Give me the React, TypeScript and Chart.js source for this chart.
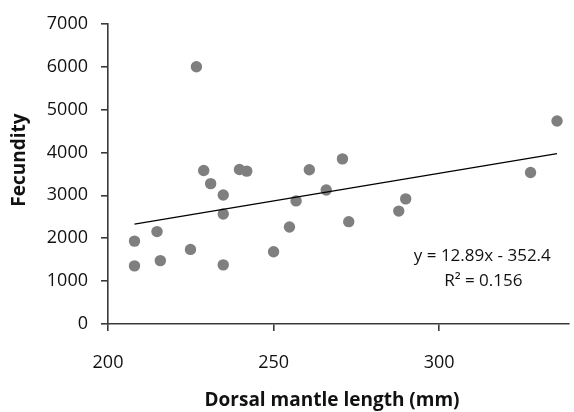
import React, { useEffect, useRef } from "react";
import { Chart, registerables } from "chart.js";

Chart.register(...registerables);

const lengthMm = [208.0, 208.0, 214.8, 215.8, 224.9, 226.7, 228.9, 231.0, 234.8, 234.8, 234.8, 239.7, 241.9, 250.0, 254.8, 256.8, 260.8, 265.9, 270.8, 272.7, 287.8, 289.9, 327.6, 335.6];
const fecundity = [1933, 1356, 2155, 1478, 1739, 6000, 3580, 3273, 3009, 2564, 1379, 3603, 3564, 1686, 2263, 2871, 3596, 3125, 3850, 2386, 2633, 2917, 3533, 4734];

const trendX = [208.0, 335.6];
const trendY = [2329, 3973];

const xTicks = [200, 250, 300];
const yTicks = [0, 1000, 2000, 3000, 4000, 5000, 6000, 7000];

const equationText = "y = 12.89x - 352.4";
const r2Text = "R² = 0.156";
const xTitle = "Dorsal mantle length (mm)";
const yTitle = "Fecundity";

const FONT = "'Open Sans', 'Noto Sans', sans-serif";
const AXIS_COLOR = "#3a3a3a";
const TEXT_COLOR = "#111111";

const textPlugin = {
  id: "customTexts",
  afterDraw(chart: any) {
    const ctx = chart.ctx;
    const area = chart.chartArea;
    ctx.save();
    ctx.fillStyle = TEXT_COLOR;
    // equation
    ctx.font = `17px ${FONT}`;
    ctx.textAlign = "center";
    ctx.textBaseline = "alphabetic";
    ctx.fillText(equationText, area.right - 86, area.top + 237);
    ctx.fillText(r2Text, area.right - 85, area.top + 262);
    // x title
    ctx.font = `bold 19px ${FONT}`;
    ctx.textBaseline = "middle";
    ctx.fillText(xTitle, 332, 401);
    // y title
    ctx.translate(20, 160);
    ctx.rotate(-Math.PI / 2);
    ctx.fillText(yTitle, 0, 0);
    ctx.restore();
  },
};

export default function App() {
  const ref = useRef<HTMLCanvasElement | null>(null);
  useEffect(() => {
    if (!ref.current) return;
    const chart = new Chart(ref.current, {
      type: "scatter",
      data: {
        datasets: [
          {
            type: "line",
            label: "Trend",
            data: trendX.map((x, i) => ({ x, y: trendY[i] })),
            borderColor: "#000000",
            borderWidth: 1.2,
            pointRadius: 0,
            fill: false,
            order: 0,
          } as any,
          {
            label: "Fecundity",
            data: lengthMm.map((x, i) => ({ x, y: fecundity[i] })),
            backgroundColor: "#7f7f7f",
            borderColor: "#7f7f7f",
            borderWidth: 0,
            pointRadius: 5.7,
            order: 1,
          },
        ],
      },
      options: {
        responsive: false,
        animation: false,
        layout: { padding: { top: 21, right: 0, left: 0, bottom: 0 } },
        plugins: {
          legend: { display: false },
          tooltip: { enabled: false },
        },
        scales: {
          x: {
            type: "linear",
            min: 200,
            max: 339,
            afterBuildTicks: (axis: any) => {
              axis.ticks = xTicks.map((v) => ({ value: v }));
            },
            afterFit: (s: any) => {
              s.height = 88;
            },
            ticks: {
              stepSize: 50,
              font: { family: FONT, size: 18 },
              color: TEXT_COLOR,
              padding: 21,
              maxRotation: 0,
              callback: (v: any) => String(v),
            },
            grid: {
              display: true,
              drawOnChartArea: false,
              drawTicks: true,
              tickLength: 7,
              color: AXIS_COLOR,
              lineWidth: 1.6,
            },
            border: { display: true, color: AXIS_COLOR, width: 1.6 },
          },
          y: {
            type: "linear",
            min: 0,
            max: 7000,
            afterBuildTicks: (axis: any) => {
              axis.ticks = yTicks.map((v) => ({ value: v }));
            },
            afterFit: (s: any) => {
              s.width = 108;
            },
            ticks: {
              stepSize: 1000,
              font: { family: FONT, size: 18 },
              color: TEXT_COLOR,
              padding: 13,
              callback: (v: any) => String(v),
            },
            grid: {
              display: true,
              drawOnChartArea: false,
              drawTicks: true,
              tickLength: 7,
              color: AXIS_COLOR,
              lineWidth: 1.6,
            },
            border: { display: true, color: AXIS_COLOR, width: 1.6 },
          },
        },
      },
      plugins: [textPlugin],
    });
    return () => chart.destroy();
  }, []);
  return (
    <div style={{ position: "fixed", left: 0, top: 0, width: 574, height: 412, background: "#fff" }}>
      <canvas ref={ref} width={574} height={412} />
    </div>
  );
}
